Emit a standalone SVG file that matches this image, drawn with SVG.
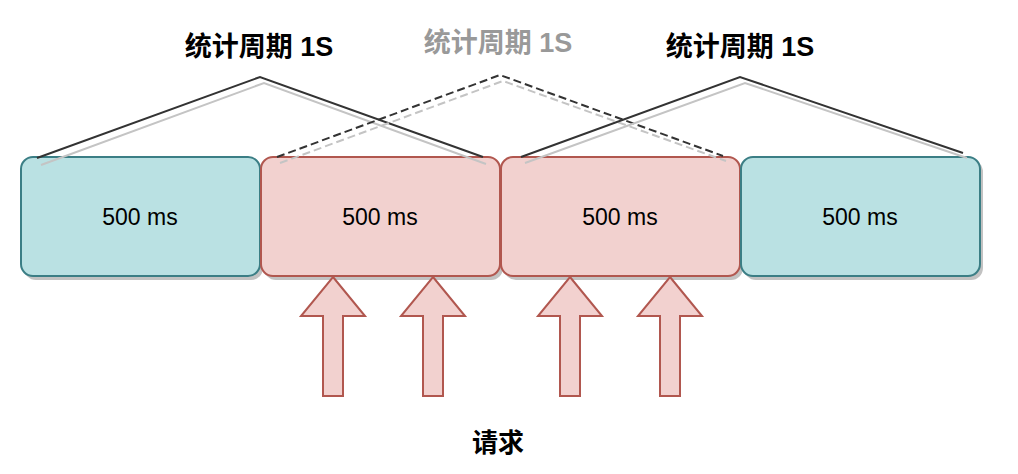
<svg xmlns="http://www.w3.org/2000/svg" width="1018" height="474" viewBox="0 0 1018 474">
<defs>
<style>
.box{stroke-width:2}
.teal{fill:#bae1e3;stroke:#3b7e85}
.pink{fill:#f2d1cf;stroke:#b1574f}
.shadow{fill:#c2c2c2}
.lbl{font-family:"Liberation Sans",Arial,sans-serif;font-size:23px;fill:#000;text-anchor:middle}
.title{font-family:"Liberation Sans","Noto Sans CJK SC",sans-serif;font-size:27px;font-weight:bold;text-anchor:middle}
.ln{fill:none;stroke-width:2}
.dk{stroke:#333333}
.lt{stroke:#c4c4c4}
.dash{stroke-dasharray:8 4}
.arrow{fill:#f2d1cf;stroke:#b1574f;stroke-width:2}
</style>
</defs>
<rect width="1018" height="474" fill="#ffffff"/>
<g id="shadows">
<rect class="shadow" x="24" y="160" width="239" height="120" rx="12"/>
<rect class="shadow" x="264" y="160" width="239" height="120" rx="12"/>
<rect class="shadow" x="504" y="160" width="239" height="120" rx="12"/>
<rect class="shadow" x="744" y="160" width="239" height="120" rx="12"/>
</g>
<g id="box1"><rect class="box teal" x="21" y="157" width="239" height="119" rx="12"/><text class="lbl" x="140" y="225">500 ms</text></g>
<g id="box2"><rect class="box pink" x="261" y="157" width="239" height="119" rx="12"/><text class="lbl" x="380" y="225">500 ms</text></g>
<g id="box3"><rect class="box pink" x="501" y="157" width="239" height="119" rx="12"/><text class="lbl" x="620" y="225">500 ms</text></g>
<g id="box4"><rect class="box teal" x="741" y="157" width="239" height="119" rx="12"/><text class="lbl" x="860" y="225">500 ms</text></g>
<g id="connectors">
<polyline class="ln lt" points="41,165 264,83 486,164"/>
<polyline class="ln dk" points="37,158 260,77 483,157"/>
<polyline class="ln lt dash" points="280,163 503,81 726,161"/>
<polyline class="ln dk dash" points="277,157 500,75 723,156"/>
<polyline class="ln lt" points="525,163 745,83 967,158"/>
<polyline class="ln dk" points="521,157 740,77 963,153"/>
</g>
<g id="arrow1"><polygon class="arrow" points="333,277 365,316 343,316 343,396 323,396 323,316 301,316"/></g>
<g id="arrow2"><polygon class="arrow" points="433,277 465,316 443,316 443,396 423,396 423,316 401,316"/></g>
<g id="arrow3"><polygon class="arrow" points="570,277 602,316 580,316 580,396 560,396 560,316 538,316"/></g>
<g id="arrow4"><polygon class="arrow" points="670,277 702,316 680,316 680,396 660,396 660,316 638,316"/></g>
<g id="title1"><text class="title" x="259" y="56" fill="#000000">统计周期 1S</text></g>
<g id="title2"><text class="title" x="498" y="52" fill="#999999">统计周期 1S</text></g>
<g id="title3"><text class="title" x="740" y="56" fill="#000000">统计周期 1S</text></g>
<g id="label"><text class="title" x="498" y="452" fill="#000000" style="font-size:26px">请求</text></g>
</svg>
